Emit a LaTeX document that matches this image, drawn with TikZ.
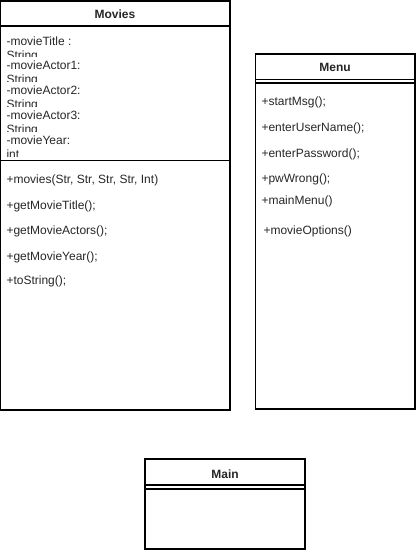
\documentclass[tikz,border=0pt]{standalone}
\usepackage{fontspec}
\setmainfont{Liberation Sans}
\begin{document}
\begin{tikzpicture}[x=0.75pt,y=-0.75pt,line width=0.8pt,
  box/.style={draw, anchor=north west, inner sep=0pt, outer sep=0pt},
  lbl/.style={anchor=base west, inner sep=0pt, text=black!85, font=\fontsize{9}{10.8}\selectfont},
  ttl/.style={anchor=center, inner sep=0pt, text=black!85, font=\bfseries\fontsize{9}{10.8}\selectfont}]
\useasboundingbox (0,0) rectangle (417,550);
% ---------- Movies ----------
\node[box, minimum width=229.5*0.75pt, minimum height=409*0.75pt] (movies) at (0.5,1) {};
\draw (0.5,26) -- (230,26);
\draw (0.5,160.5) -- (230,160.5);
\node[ttl] (moviesT) at (115,14) {Movies};
\begin{scope}
  \clip (1,29) rectangle (229,56.5);
  \node[lbl] (a1) at (6,45) {-movieTitle :};
  \node[lbl] (a1b) at (6,59) {String};
\end{scope}
\begin{scope}
  \clip (1,56.5) rectangle (229,81.4);
  \node[lbl] (a2) at (6,69.9) {-movieActor1:};
  \node[lbl] (a2b) at (6,83.9) {String};
\end{scope}
\begin{scope}
  \clip (1,81.4) rectangle (229,106.3);
  \node[lbl] (a3) at (6,94.8) {-movieActor2:};
  \node[lbl] (a3b) at (6,108.8) {String};
\end{scope}
\begin{scope}
  \clip (1,106.3) rectangle (229,131.2);
  \node[lbl] (a4) at (6,119.7) {-movieActor3:};
  \node[lbl] (a4b) at (6,133.7) {String};
\end{scope}
\begin{scope}
  \clip (1,131.2) rectangle (229,156.1);
  \node[lbl] (a5) at (6,144.6) {-movieYear:};
  \node[lbl] (a5b) at (6,158.6) {int};
\end{scope}
\node[lbl] (m1) at (6,183.5) {+movies(Str, Str, Str, Str, Int)};
\node[lbl] (m2) at (6,209) {+getMovieTitle();};
\node[lbl] (m3) at (6,234.5) {+getMovieActors();};
\node[lbl] (m4) at (6,260) {+getMovieYear();};
\node[lbl] (m5) at (6,284.5) {+toString();};
% ---------- Menu ----------
\node[box, minimum width=159.5*0.75pt, minimum height=355*0.75pt] (menu) at (255.5,54) {};
\draw (255.5,79.5) -- (415,79.5);
\draw (255.5,83) -- (415,83);
\node[ttl] (menuT) at (335,67) {Menu};
\node[lbl] (n1) at (261,105.3) {+startMsg();};
\node[lbl] (n2) at (261,131.3) {+enterUserName();};
\node[lbl] (n3) at (261,157.3) {+enterPassword();};
\node[lbl] (n4) at (261,182.8) {+pwWrong();};
\node[lbl] (n5) at (261,204.8) {+mainMenu()};
\node[lbl] (n6) at (263,234.8) {+movieOptions()};
% ---------- Main ----------
\node[box, minimum width=160*0.75pt, minimum height=90*0.75pt] (main) at (145,459) {};
\draw (145,485) -- (305,485);
\draw (145,489) -- (305,489);
\node[ttl] (mainT) at (225,474) {Main};
\end{tikzpicture}
\end{document}
